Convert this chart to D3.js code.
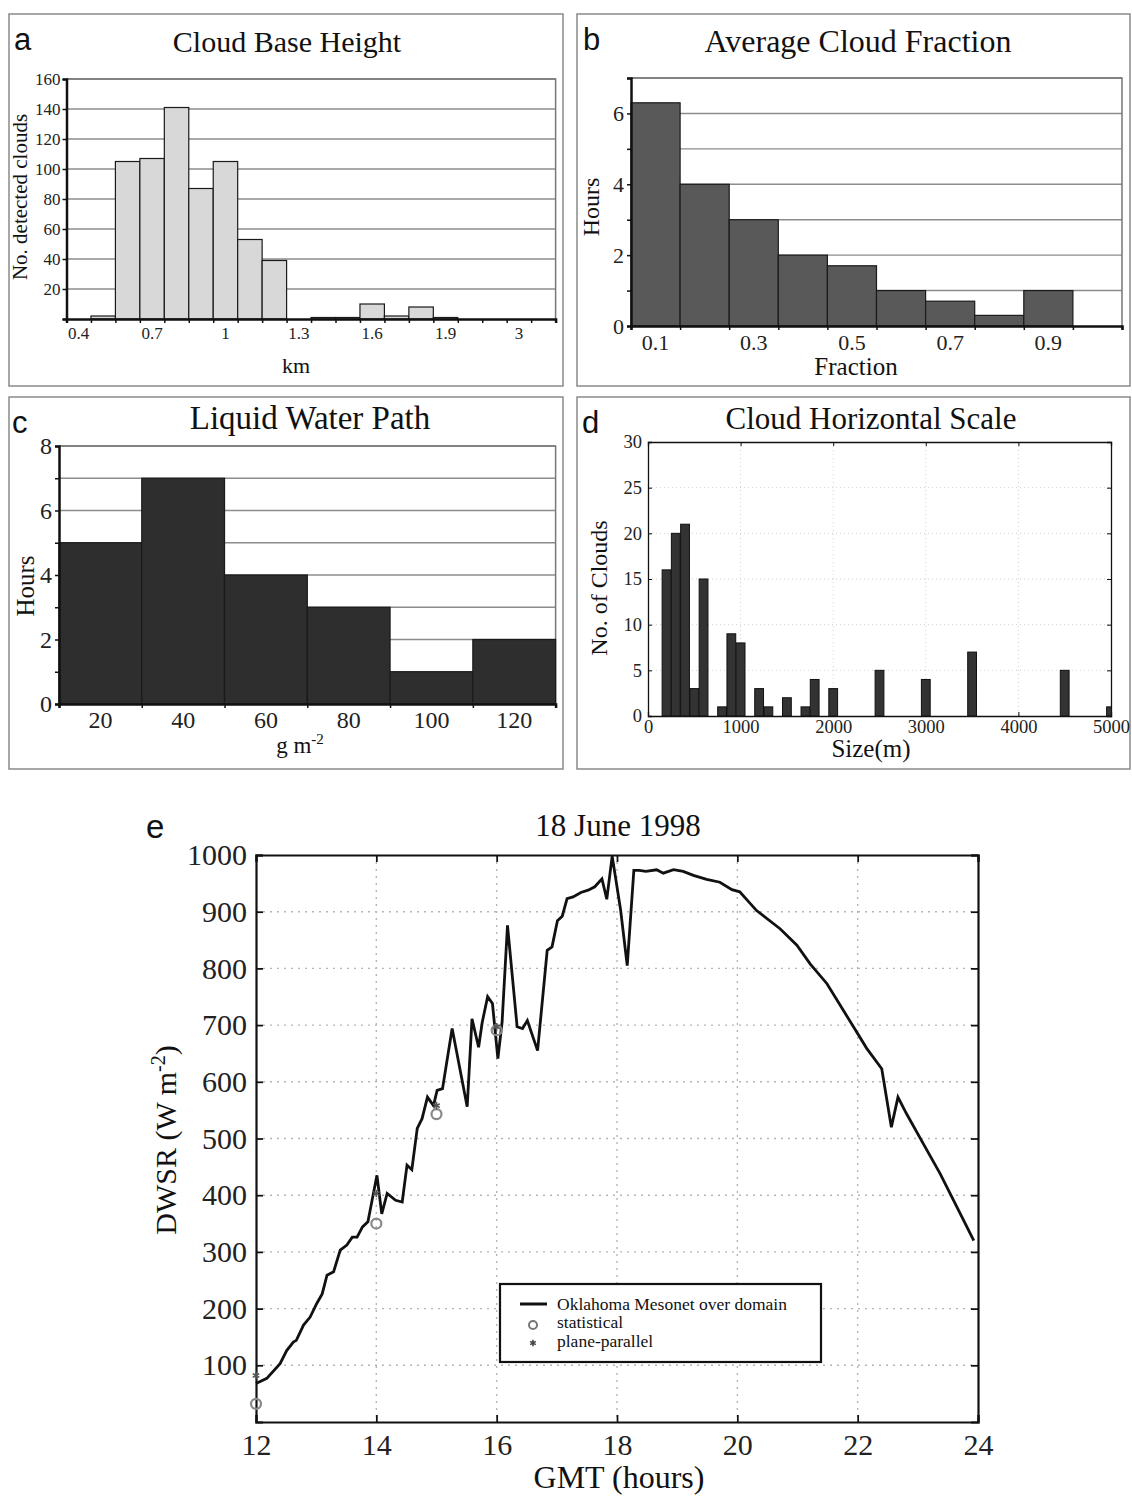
<!DOCTYPE html>
<html>
<head>
<meta charset="utf-8">
<script src="https://cdn.jsdelivr.net/npm/d3@7"></script>
<style>
body { margin: 0; background: #fff; }
</style>
</head>
<body>
<div id="chart"></div>
<script>
var width = 1132,
        height = 1496;

// a: cloud base height histogram (km bins)
var cbhBins = ["0.4", "0.5", "0.6", "0.7", "0.8", "0.9", "1", "1.1", "1.2", "1.3",
    "1.4", "1.5", "1.6", "1.7", "1.8", "1.9", "2", "2.5", "3", "More"];
var cbhCounts = [0, 2, 105, 107, 141, 87, 105, 53, 39, 0, 1, 1, 10, 2, 8, 1, 0, 0, 0, 0];
var cbhLabels = ["0.4", "0.7", "1", "1.3", "1.6", "1.9", "3"];
var cbhYTicks = [20, 40, 60, 80, 100, 120, 140, 160];

// b: average cloud fraction
var fracBins = ["0.1", "0.2", "0.3", "0.4", "0.5", "0.6", "0.7", "0.8", "0.9", "1"];
var fracHours = [6.3, 4, 3, 2, 1.7, 1, 0.7, 0.3, 1, 0];
var fracLabels = ["0.1", "0.3", "0.5", "0.7", "0.9"];
var fracYTicks = [0, 2, 4, 6];

// c: liquid water path
var lwpBins = ["20", "40", "60", "80", "100", "120"];
var lwpHours = [5, 7, 4, 3, 1, 2];
var lwpYTicks = [0, 2, 4, 6, 8];

// d: cloud horizontal scale
var sizeM = [200, 300, 400, 500, 600, 800, 900, 1000, 1200, 1300, 1500, 1700, 1800, 2000, 2500, 3000, 3500, 4500, 5000];
var sizeCount = [16, 20, 21, 3, 15, 1, 9, 8, 3, 1, 2, 1, 4, 3, 5, 4, 7, 5, 1];
var sizeXTicks = [0, 1000, 2000, 3000, 4000, 5000];
var sizeYTicks = [0, 5, 10, 15, 20, 25, 30];

// e: DWSR time series
var gmtHours = [12.00, 12.18, 12.40, 12.51, 12.62, 12.67, 12.79, 12.90, 13.01, 13.10,
    13.18, 13.29, 13.40, 13.51, 13.60, 13.68, 13.77, 13.86, 13.94, 14.01,
    14.09, 14.18, 14.32, 14.43, 14.51, 14.59, 14.68, 14.76, 14.85, 14.95,
    15.01, 15.10, 15.26, 15.51, 15.59, 15.70, 15.76, 15.85, 15.93, 16.02,
    16.09, 16.18, 16.34, 16.43, 16.51, 16.68, 16.84, 16.92, 17.01, 17.09,
    17.17, 17.27, 17.40, 17.52, 17.63, 17.75, 17.83, 17.92, 18.06, 18.17,
    18.28, 18.37, 18.48, 18.66, 18.77, 18.94, 19.10, 19.27, 19.49, 19.71,
    19.91, 20.04, 20.32, 20.71, 20.99, 21.21, 21.49, 21.71, 21.93, 22.15,
    22.40, 22.45, 22.56, 22.67, 22.81, 23.09, 23.37, 23.73, 23.93];
var dwsr = [68, 77, 103, 126, 141, 144, 171, 185, 209, 226,
    259, 265, 303, 312, 326, 326, 344, 353, 397, 435,
    367, 403, 391, 388, 453, 445, 518, 535, 573, 558,
    585, 588, 694, 556, 711, 661, 705, 750, 738, 641,
    705, 876, 697, 694, 708, 655, 832, 838, 884, 892,
    923, 926, 934, 938, 944, 958, 922, 998, 903, 805,
    973, 973, 971, 974, 968, 974, 971, 964, 957, 952,
    939, 935, 902, 870, 841, 808, 773, 735, 697, 659,
    623, 591, 520, 573, 544, 491, 438, 362, 320];
var statHours = [12, 14, 15, 16];
var statDwsr = [32, 350, 543, 691];
var ppHours = [12, 14, 15, 16];
var ppDwsr = [82, 403, 558, 697];
var gmtTicks = [12, 14, 16, 18, 20, 22, 24];
var dwsrTicks = [100, 200, 300, 400, 500, 600, 700, 800, 900, 1000];

var serif = "'Liberation Serif', 'Times New Roman', serif";
var sans = "'Liberation Sans', Arial, sans-serif";
var plain = d3.format("d");

var svg = d3.select("#chart").append("svg")
        .attr("width", width)
        .attr("height", height);

svg.append("rect")
        .attr("width", width)
        .attr("height", height)
        .attr("fill", "#fff");

function panelFrame(x0, y0, x1, y1) {
    svg.append("rect")
            .attr("x", x0)
            .attr("y", y0)
            .attr("width", x1 - x0)
            .attr("height", y1 - y0)
            .attr("fill", "none")
            .attr("stroke", "#8a8a8a")
            .attr("stroke-width", 1.5);
}

function addText(x, y, str, size, opts) {
    opts = opts || {};
    var t = svg.append("text")
            .attr("x", x)
            .attr("y", y)
            .attr("font-family", opts.family || serif)
            .attr("font-size", size)
            .attr("fill", "#111")
            .attr("text-anchor", opts.anchor || "middle")
            .text(str);
    if (opts.rotate)
        t.attr("transform", "rotate(-90," + x + "," + y + ")");
    return t;
}

// excel-like histogram with horizontal grid and boundary ticks
function excelHist(o) {
    var g = svg.append("g");
    var x = d3.scaleBand().domain(o.cats).range([o.l, o.r]).padding(0);
    var xi = d3.scaleLinear().domain([0, o.cats.length]).range([o.l, o.r]);
    var y = d3.scaleLinear().domain([0, o.ymax]).range([o.b, o.t]);

    g.selectAll(".grid")
            .data(d3.range(o.ystep, o.ymax + 1e-9, o.ystep))
            .enter().append("line")
            .attr("x1", o.l)
            .attr("x2", o.r)
            .attr("y1", function (d) { return y(d); })
            .attr("y2", function (d) { return y(d); })
            .attr("stroke", "#8c8c8c")
            .attr("stroke-width", 1.4);
    g.append("path")
            .attr("d", "M" + o.l + "," + o.t + "H" + o.r + "V" + o.b)
            .attr("fill", "none")
            .attr("stroke", "#777")
            .attr("stroke-width", 1.5);

    g.selectAll(".bar")
            .data(o.vals)
            .enter().append("rect")
            .attr("x", function (d, i) { return x(o.cats[i]); })
            .attr("y", function (d) { return y(d); })
            .attr("width", x.bandwidth())
            .attr("height", function (d) { return o.b - y(d); })
            .attr("fill", o.fill)
            .attr("stroke", "#1a1a1a")
            .attr("stroke-width", 1.2)
            .attr("display", function (d) { return d > 0 ? null : "none"; });

    // boundary ticks on x
    var xTickAxis = g.append("g")
            .attr("transform", "translate(0," + o.b + ")")
            .call(d3.axisBottom(xi).tickValues(d3.range(o.cats.length + 1)).tickSize(4).tickFormat(""));
    xTickAxis.select(".domain").attr("stroke", "#111").attr("stroke-width", 2.5);
    xTickAxis.selectAll(".tick line").attr("stroke", "#111").attr("stroke-width", 1.5);

    // x labels at band centres
    var xLab = g.append("g")
            .attr("transform", "translate(0," + o.b + ")")
            .call(d3.axisBottom(x).tickSize(0).tickPadding(o.xpad)
                    .tickValues(o.xlabels));
    xLab.select(".domain").remove();
    xLab.selectAll("text").attr("font-family", serif).attr("font-size", o.tickFont).attr("fill", "#222");

    var yAx = g.append("g")
            .attr("transform", "translate(" + o.l + ",0)")
            .call(d3.axisLeft(y).tickValues(d3.range(0, o.ymax + 1e-9, o.ystep))
                    .tickSize(4).tickPadding(o.ypad)
                    .tickFormat(function (d) { return o.ylabels.indexOf(d) >= 0 ? d : ""; }));
    yAx.select(".domain").attr("stroke", "#111").attr("stroke-width", 2.5);
    yAx.selectAll(".tick line").attr("stroke", "#111").attr("stroke-width", 1.5);
    yAx.selectAll("text").attr("font-family", serif).attr("font-size", o.tickFont).attr("fill", "#222");
}

// matlab-like axes: box, dotted grid, inward ticks on all sides
function matlabAxes(g, x, y, xt, yt, o) {
    var l = x.range()[0], r = x.range()[1], b = y.range()[0], t = y.range()[1];
    g.selectAll(".vgrid")
            .data(xt.slice(1, -1))
            .enter().append("line")
            .attr("x1", function (d) { return x(d); })
            .attr("x2", function (d) { return x(d); })
            .attr("y1", t).attr("y2", b)
            .attr("stroke", o.gridColor)
            .attr("stroke-width", o.gridWidth)
            .attr("stroke-dasharray", o.dash);
    g.selectAll(".hgrid")
            .data(yt.filter(function (d) { return d !== y.domain()[0] && d !== y.domain()[1]; }))
            .enter().append("line")
            .attr("x1", l).attr("x2", r)
            .attr("y1", function (d) { return y(d); })
            .attr("y2", function (d) { return y(d); })
            .attr("stroke", o.gridColor)
            .attr("stroke-width", o.gridWidth)
            .attr("stroke-dasharray", o.dash);

    var axB = g.append("g").attr("transform", "translate(0," + b + ")")
            .call(d3.axisBottom(x).tickValues(xt).tickSize(-o.tick).tickPadding(o.xpad).tickFormat(plain));
    var axT = g.append("g").attr("transform", "translate(0," + t + ")")
            .call(d3.axisTop(x).tickValues(xt).tickSize(-o.tick).tickFormat(""));
    var axL = g.append("g").attr("transform", "translate(" + l + ",0)")
            .call(d3.axisLeft(y).tickValues(yt).tickSize(-o.tick).tickPadding(o.ypad).tickFormat(plain));
    var axR = g.append("g").attr("transform", "translate(" + r + ",0)")
            .call(d3.axisRight(y).tickValues(yt).tickSize(-o.tick).tickFormat(""));
    [axB, axT, axL, axR].forEach(function (a) {
        a.select(".domain").attr("stroke", "#111").attr("stroke-width", o.frame);
        a.selectAll(".tick line").attr("stroke", "#111").attr("stroke-width", o.frame * 0.8);
        a.selectAll("text").attr("font-family", serif).attr("font-size", o.tickFont).attr("fill", "#222");
    });
}

// ---------- panel a ----------
panelFrame(9, 14, 563, 386);
addText(14, 50, "a", 31, {family: sans, anchor: "start"});
addText(287, 52, "Cloud Base Height", 30);
excelHist({
    l: 66.5, r: 555.6, t: 79, b: 319,
    cats: cbhBins, vals: cbhCounts, ymax: 160, ystep: 20,
    ylabels: cbhYTicks, xlabels: cbhLabels,
    fill: "#d8d8d8", tickFont: 17, xpad: 8, ypad: 2
});
addText(27, 197, "No. detected clouds", 21, {rotate: true});
addText(296, 373, "km", 22);

// ---------- panel b ----------
panelFrame(577, 14, 1130, 386);
addText(583, 50, "b", 31, {family: sans, anchor: "start"});
addText(858, 52, "Average Cloud Fraction", 32);
excelHist({
    l: 631, r: 1122, t: 78, b: 326,
    cats: fracBins, vals: fracHours, ymax: 7, ystep: 1,
    ylabels: fracYTicks, xlabels: fracLabels,
    fill: "#595959", tickFont: 22, xpad: 8, ypad: 3
});
addText(599, 207, "Hours", 24, {rotate: true});
addText(856, 375, "Fraction", 25);

// ---------- panel c ----------
panelFrame(9, 397, 563, 769);
addText(12, 433, "c", 31, {family: sans, anchor: "start"});
addText(310, 429, "Liquid Water Path", 33);
excelHist({
    l: 59, r: 555.6, t: 446, b: 704,
    cats: lwpBins, vals: lwpHours, ymax: 8, ystep: 1,
    ylabels: lwpYTicks, xlabels: lwpBins,
    fill: "#2e2e2e", tickFont: 24, xpad: 7, ypad: 3
});
addText(34, 586, "Hours", 25, {rotate: true});
var gm = addText(300, 753, "g m", 23);
gm.append("tspan").attr("dy", -9).attr("font-size", 15).text("-2");

// ---------- panel d ----------
panelFrame(577, 397, 1130, 769);
addText(582, 433, "d", 31, {family: sans, anchor: "start"});
addText(871, 429, "Cloud Horizontal Scale", 31);
var dG = svg.append("g");
var xD = d3.scaleLinear().domain([0, 5000]).range([648, 1111]);
var yD = d3.scaleLinear().domain([0, 30]).range([716, 442]);
matlabAxes(dG, xD, yD, sizeXTicks, sizeYTicks, {
    gridColor: "#d0d0d0", gridWidth: 1, dash: "1,3", tick: 4,
    xpad: 4, ypad: 6, tickFont: 18.5, frame: 1.3
});
svg.append("clipPath").attr("id", "clipD")
        .append("rect").attr("x", 648).attr("y", 442).attr("width", 463).attr("height", 274);
var barW = 95;
dG.append("g").attr("clip-path", "url(#clipD)")
        .selectAll("rect")
        .data(sizeM)
        .enter().append("rect")
        .attr("x", function (d) { return xD(d - barW / 2); })
        .attr("y", function (d, i) { return yD(sizeCount[i]); })
        .attr("width", xD(barW) - xD(0))
        .attr("height", function (d, i) { return yD(0) - yD(sizeCount[i]); })
        .attr("fill", "#333")
        .attr("stroke", "#111")
        .attr("stroke-width", 1);
addText(607, 588, "No. of Clouds", 24, {rotate: true});
addText(871, 757, "Size(m)", 25);

// ---------- panel e ----------
addText(146, 838, "e", 33, {family: sans, anchor: "start"});
addText(618, 836, "18 June 1998", 31);
var eG = svg.append("g");
var xE = d3.scaleLinear().domain([12, 24]).range([256, 978]);
var yE = d3.scaleLinear().domain([0, 1000]).range([1422, 855]);
matlabAxes(eG, xE, yE, gmtTicks, dwsrTicks, {
    gridColor: "#b5b5b5", gridWidth: 1.4, dash: "2,5", tick: 7,
    xpad: 12, ypad: 9, tickFont: 30, frame: 2.2
});

var line = d3.line()
        .x(function (d, i) { return xE(gmtHours[i]); })
        .y(function (d) { return yE(d); });
eG.append("path")
        .datum(dwsr)
        .attr("d", line)
        .attr("fill", "none")
        .attr("stroke", "#111")
        .attr("stroke-width", 2.8)
        .attr("stroke-linejoin", "miter");

eG.selectAll(".stat")
        .data(statDwsr)
        .enter().append("circle")
        .attr("cx", function (d, i) { return xE(statHours[i]); })
        .attr("cy", function (d) { return yE(d); })
        .attr("r", 5)
        .attr("fill", "none")
        .attr("stroke", "#888")
        .attr("stroke-width", 2.2);

var star = d3.symbol().type(d3.symbolAsterisk).size(40);
eG.selectAll(".pp")
        .data(ppDwsr)
        .enter().append("path")
        .attr("d", star)
        .attr("transform", function (d, i) { return "translate(" + xE(ppHours[i]) + "," + yE(d) + ")"; })
        .attr("fill", "none")
        .attr("stroke", "#555")
        .attr("stroke-width", 1.6);

var yl = addText(176, 1140, "DWSR (W m", 30, {rotate: true});
yl.append("tspan").attr("dy", -11).attr("font-size", 20).text("-2");
yl.append("tspan").attr("dy", 11).text(")");
addText(619, 1488, "GMT (hours)", 32);

// legend
var lg = svg.append("g");
lg.append("rect")
        .attr("x", 500)
        .attr("y", 1284)
        .attr("width", 321)
        .attr("height", 78)
        .attr("fill", "#fff")
        .attr("stroke", "#111")
        .attr("stroke-width", 2.2);
lg.append("line")
        .attr("x1", 520).attr("x2", 547)
        .attr("y1", 1304).attr("y2", 1304)
        .attr("stroke", "#111").attr("stroke-width", 3);
lg.append("circle")
        .attr("cx", 533).attr("cy", 1325).attr("r", 4)
        .attr("fill", "none").attr("stroke", "#777").attr("stroke-width", 2);
lg.append("path")
        .attr("d", d3.symbol().type(d3.symbolAsterisk).size(30))
        .attr("transform", "translate(533,1343)")
        .attr("fill", "none").attr("stroke", "#444").attr("stroke-width", 1.6);
addText(557, 1310, "Oklahoma Mesonet over domain", 17.5, {anchor: "start"});
addText(557, 1328, "statistical", 17.5, {anchor: "start"});
addText(557, 1347, "plane-parallel", 17.5, {anchor: "start"});
</script>
</body>
</html>
